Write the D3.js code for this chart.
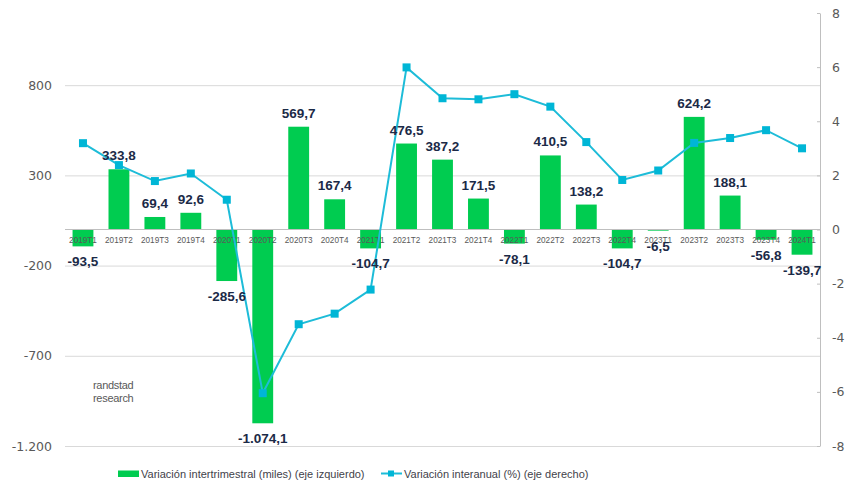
<!DOCTYPE html>
<html>
<head>
<meta charset="utf-8">
<script src="https://cdn.jsdelivr.net/npm/d3@7"></script>
<style>
  html, body { margin: 0; padding: 0; background: #ffffff; }
  svg { display: block; }
</style>
</head>
<body>
<svg id="chart" width="853" height="489"></svg>
<script>
const categories = ["2019T1","2019T2","2019T3","2019T4","2020T1","2020T2","2020T3","2020T4","2021T1","2021T2","2021T3","2021T4","2022T1","2022T2","2022T3","2022T4","2023T1","2023T2","2023T3","2023T4","2024T1"];
const quarterlyChange = [-93.5, 333.8, 69.4, 92.6, -285.6, -1074.1, 569.7, 167.4, -104.7, 476.5, 387.2, 171.5, -78.1, 410.5, 138.2, -104.7, -6.5, 624.2, 188.1, -56.8, -139.7];
const annualChangePct = [3.19, 2.38, 1.79, 2.07, 1.1, -6.05, -3.5, -3.11, -2.22, 5.99, 4.85, 4.81, 5.0, 4.54, 3.23, 1.83, 2.18, 3.2, 3.38, 3.67, 3.0];
const leftTicks = [-1200, -700, -200, 300, 800];
const rightTicks = [-8, -6, -4, -2, 0, 2, 4, 6, 8];
const seriesNames = ["Variación intertrimestral (miles) (eje izquierdo)", "Variación interanual (%) (eje derecho)"];
const watermark = ["randstad", "research"];

const W = 853, H = 489;
const plot = { left: 65, right: 820, top: 13, bottom: 446 };
const GREEN = "#00cc50", CYAN = "#1dbcd8", LABEL = "#1b2a47", AXIS_TXT = "#595959";

const locale = d3.formatLocale({ decimal: ",", thousands: ".", grouping: [3], currency: ["", "€"], minus: "-" });
const fmtLabel = locale.format(",.1f");
const fmtTick = locale.format(",d");

const svg = d3.select("#chart");

const x = d3.scaleBand().domain(categories).range([plot.left, plot.right]).paddingInner(0.42).paddingOuter(0.21);
const xc = d => x(d) + x.bandwidth() / 2;
const yL = d3.scaleLinear().domain([-1200, 1200]).range([plot.bottom, plot.top]);
const yR = d3.scaleLinear().domain([-8, 8]).range([plot.bottom, plot.top]);

// gridlines + left axis labels
const gLeft = svg.append("g").attr("transform", `translate(${plot.left},0)`)
  .call(d3.axisLeft(yL).tickValues(leftTicks).tickFormat(fmtTick)
    .tickSizeInner(-(plot.right - plot.left)).tickSizeOuter(0).tickPadding(13));
gLeft.select(".domain").remove();
gLeft.selectAll(".tick line").attr("stroke", "#d9d9d9").attr("stroke-width", 1);
gLeft.selectAll(".tick text").attr("fill", AXIS_TXT).style("font-family", "DejaVu Sans").style("font-size", "12.5px");

// bars
svg.append("g").selectAll("rect").data(categories).join("rect")
  .attr("x", d => x(d))
  .attr("width", x.bandwidth())
  .attr("y", (d, i) => yL(Math.max(0, quarterlyChange[i])))
  .attr("height", (d, i) => Math.abs(yL(quarterlyChange[i]) - yL(0)))
  .attr("fill", GREEN);

// zero axis line
svg.append("line").attr("x1", plot.left).attr("x2", plot.right)
  .attr("y1", yL(0)).attr("y2", yL(0)).attr("stroke", "#bfbfbf").attr("stroke-width", 1);

// category labels
const gX = svg.append("g").attr("transform", `translate(0,${yL(0)})`)
  .call(d3.axisBottom(x).tickSize(0).tickPadding(8));
gX.select(".domain").remove();
gX.selectAll(".tick text").attr("fill", AXIS_TXT).style("font-family", "Liberation Sans").style("font-size", "8.2px");

// right axis
const gR = svg.append("g").attr("transform", `translate(${plot.right},0)`)
  .call(d3.axisRight(yR).tickValues(rightTicks).tickFormat(fmtTick)
    .tickSizeInner(-3).tickSizeOuter(0).tickPadding(12));
gR.select(".domain").attr("stroke", "#bfbfbf");
gR.selectAll(".tick line").attr("stroke", "#bfbfbf");
gR.selectAll(".tick text").attr("fill", AXIS_TXT).style("font-family", "DejaVu Sans").style("font-size", "12.5px");

// watermark
svg.append("text").attr("x", 93).attr("y", 389).attr("fill", "#595959")
  .style("font-family", "Liberation Sans").style("font-size", "11px").style("letter-spacing", "-0.3px")
  .selectAll("tspan").data(watermark).join("tspan")
  .attr("x", 93).attr("dy", (d, i) => i === 0 ? 0 : 13).text(d => d);

// line
const line = d3.line().x((d, i) => xc(categories[i])).y(d => yR(d));
svg.append("path").datum(annualChangePct).attr("d", line)
  .attr("fill", "none").attr("stroke", CYAN).attr("stroke-width", 2);
svg.append("g").selectAll("rect").data(annualChangePct).join("rect")
  .attr("x", (d, i) => xc(categories[i]) - 4).attr("y", d => yR(d) - 4)
  .attr("width", 8).attr("height", 8).attr("fill", "#00b6d6");

// data labels
svg.append("g").selectAll("text").data(quarterlyChange).join("text")
  .attr("x", (d, i) => xc(categories[i]))
  .attr("y", d => d >= 0 ? yL(d) - 9 : yL(d) + 20)
  .attr("text-anchor", "middle")
  .attr("fill", LABEL)
  .style("font-family", "Liberation Sans").style("font-weight", "bold").style("font-size", "13.5px")
  .text(d => fmtLabel(d));

// legend
const lg = svg.append("g").style("font-family", "Liberation Sans").style("font-size", "11px").attr("fill", "#3f3f4a");
lg.append("rect").attr("x", 118).attr("y", 470.5).attr("width", 21).attr("height", 6.5).attr("fill", GREEN);
lg.append("text").attr("x", 141).attr("y", 478).text(seriesNames[0]);
lg.append("line").attr("x1", 381).attr("x2", 402).attr("y1", 473.5).attr("y2", 473.5).attr("stroke", CYAN).attr("stroke-width", 2);
lg.append("rect").attr("x", 388).attr("y", 470.5).attr("width", 6).attr("height", 6).attr("fill", "#00b6d6");
lg.append("text").attr("x", 404).attr("y", 478).text(seriesNames[1]);
</script>
</body>
</html>
